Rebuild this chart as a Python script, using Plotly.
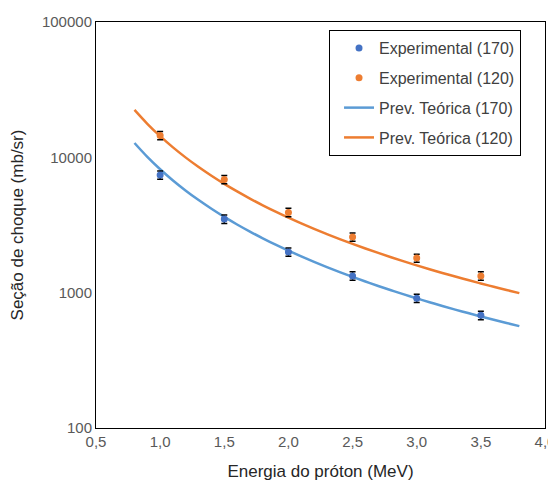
import plotly.graph_objects as go

# Experimental data (proton energy in MeV, cross-section in mb/sr)
energia_exp = [1.0, 1.5, 2.0, 2.5, 3.0, 3.5]
exp_170 = [7400, 3500, 2000, 1330, 910, 680]
err_170 = [520, 250, 140, 95, 65, 50]
exp_120 = [14500, 6850, 3920, 2580, 1800, 1330]
err_120 = [1000, 480, 280, 180, 125, 95]

# Theoretical prediction curves
energia_teo = [0.8, 0.9, 1.0, 1.1, 1.2, 1.3, 1.4, 1.5, 1.6, 1.7, 1.8, 1.9, 2.0,
               2.1, 2.2, 2.3, 2.4, 2.5, 2.6, 2.7, 2.8, 2.9, 3.0, 3.1, 3.2, 3.3,
               3.4, 3.5, 3.6, 3.7, 3.8]
teo_170 = [12766, 10086, 8170, 6752, 5674, 4834, 4168, 3631, 3191, 2827, 2522,
           2263, 2043, 1853, 1688, 1544, 1418, 1307, 1209, 1121, 1042, 971,
           908, 850, 798, 750, 707, 667, 630, 597, 566]
teo_120 = [22390, 17691, 14330, 11843, 9951, 8479, 7311, 6369, 5598, 4958, 4423,
           3970, 3583, 3249, 2961, 2709, 2488, 2293, 2120, 1966, 1828, 1704,
           1592, 1491, 1399, 1316, 1240, 1170, 1106, 1047, 992]

y_ticks = [100, 1000, 10000, 100000]
y_ticklabels = ["100", "1000", "10000", "100000"]
x_ticks = [0.5, 1.0, 1.5, 2.0, 2.5, 3.0, 3.5, 4.0]

FONT = "Liberation Sans, Arial, sans-serif"

fig = go.Figure()

fig.add_trace(go.Scatter(
    x=energia_teo, y=teo_170, mode="lines", name="Prev. Teórica (170)",
    line=dict(color="#5B9BD5", width=2.5, shape="spline"), legendrank=3, legendgroup="c"))
fig.add_trace(go.Scatter(
    x=energia_teo, y=teo_120, mode="lines", name="Prev. Teórica (120)",
    line=dict(color="#ED7D31", width=2.5, shape="spline"), legendrank=4, legendgroup="d"))
fig.add_trace(go.Scatter(
    x=energia_exp, y=exp_170, mode="markers", name="Experimental (170)",
    marker=dict(color="#4472C4", size=7),
    error_y=dict(type="data", array=err_170, color="black", thickness=1.5, width=3),
    legendrank=1, legendgroup="a"))
fig.add_trace(go.Scatter(
    x=energia_exp, y=exp_120, mode="markers", name="Experimental (120)",
    marker=dict(color="#ED7D31", size=7),
    error_y=dict(type="data", array=err_120, color="black", thickness=1.5, width=3),
    legendrank=2, legendgroup="b"))

# The page adds an 8px body margin, so the figure is sized 548x474.
fig.update_layout(
    width=548, height=474,
    margin=dict(l=88, r=11, t=14, b=54),
    paper_bgcolor="white", plot_bgcolor="white",
    separators=",.",
    font=dict(family=FONT, size=15, color="#595959"),
    legend=dict(
        x=0.519, y=0.980, xanchor="left", yanchor="top",
        bordercolor="black", borderwidth=1, bgcolor="white",
        font=dict(family=FONT, size=16, color="#404040"),
        tracegroupgap=6, traceorder="grouped", indentation=9,
    ),
    showlegend=True,
)

fig.update_xaxes(
    range=[0.5, 4.0], tickvals=x_ticks, tickformat=".1f",
    showgrid=False, zeroline=False, showline=True, linecolor="black",
    linewidth=1, mirror=True, ticks="", automargin=False,
    tickfont=dict(family=FONT, size=15, color="#595959"),
    title=dict(text="Energia do próton (MeV)",
               font=dict(family=FONT, size=17, color="#262626"), standoff=16),
)
fig.update_yaxes(
    type="log", range=[2, 5], tickvals=y_ticks, ticktext=y_ticklabels,
    showgrid=False, zeroline=False, showline=True, linecolor="black",
    linewidth=1, mirror=True, ticks="", automargin=False,
    tickfont=dict(family=FONT, size=15, color="#595959"),
    title=dict(text="Seção de choque (mb/sr)",
               font=dict(family=FONT, size=17, color="#262626"), standoff=16),
)

fig.write_html("out.html")
